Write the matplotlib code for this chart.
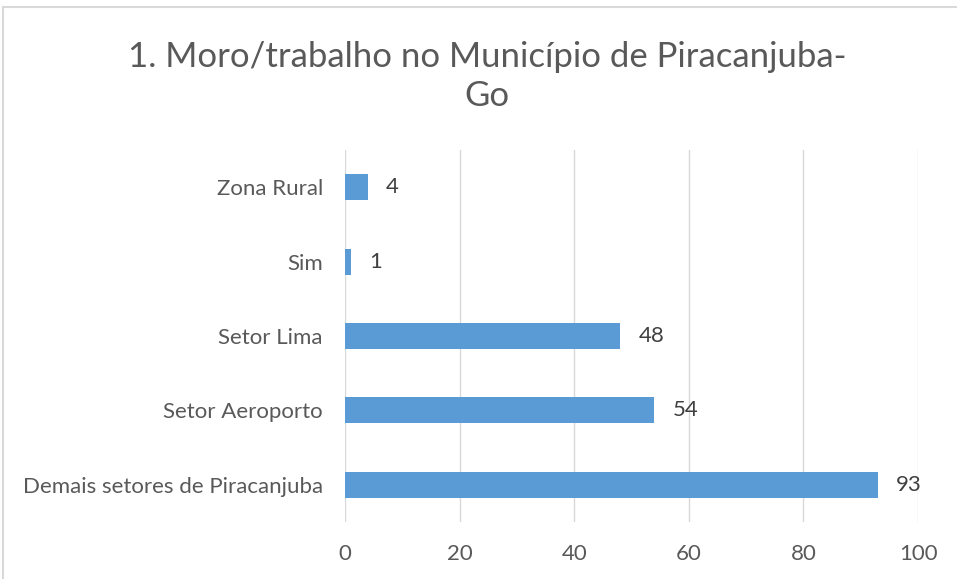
import matplotlib.pyplot as plt
from matplotlib.patches import Rectangle

categorias = ['Demais setores de Piracanjuba', 'Setor Aeroporto', 'Setor Lima', 'Sim', 'Zona Rural']
valores = [93, 54, 48, 1, 4]
ticks = [0, 20, 40, 60, 80, 100]

plt.rcParams['font.family'] = ['Lato', 'DejaVu Sans']

fig = plt.figure(figsize=(9.57, 5.79), dpi=100)
ax = fig.add_axes([0.3605, 0.0984, 0.5988, 0.6426])

# moldura cinza (só aparece à esquerda e em cima)
fig.patches.append(Rectangle((3 / 957, -0.1), 1.2, 1 - 7 / 579 + 0.1, transform=fig.transFigure,
                             fill=False, edgecolor='#d9d9d9', linewidth=1.5))

y = range(len(categorias))
ax.barh(y, valores, height=0.35, color='#5b9bd5', zorder=3)
for i, v in enumerate(valores):
    ax.text(v + 3.2, i, str(v), va='center', ha='left', fontsize=16, color='#404040')

ax.set_xlim(0, 100)
ax.set_ylim(-0.5, len(categorias) - 0.5)
ax.set_xticks(ticks)
ax.set_yticks(list(y))
ax.set_yticklabels(categorias)
ax.grid(axis='x', color='#d9d9d9', linewidth=1, zorder=0)
for s in ax.spines.values():
    s.set_visible(False)
ax.tick_params(length=0, labelsize=16, colors='#595959')
ax.tick_params(axis='y', pad=16)
ax.tick_params(axis='x', pad=16)

fig.text(0.509, 0.868, '1. Moro/trabalho no Município de Piracanjuba-\nGo', ha='center', va='center',
         fontsize=25, color='#595959', linespacing=1.3)

fig.savefig('out.png', dpi=100)
